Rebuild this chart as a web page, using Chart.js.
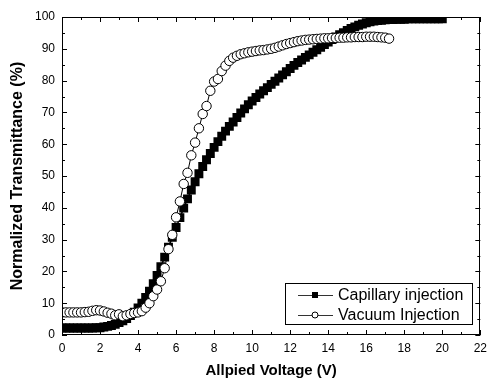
<!DOCTYPE html>
<html>
<head>
<meta charset="utf-8">
<script src="https://cdn.jsdelivr.net/npm/chart.js@4/dist/chart.umd.min.js"></script>
<style>
  body { margin: 0; background: #fff; }
  #wrap { width: 493px; height: 380px; }
</style>
</head>
<body>
<div id="wrap"><canvas id="cvsTrans" width="493" height="380"></canvas></div>
<script>
// dados
const voltage = [
  0.0, 0.2, 0.4, 0.6, 0.8, 1.0, 1.2, 1.4, 1.6, 1.8,
  2.0, 2.2, 2.4, 2.6, 2.8, 3.0, 3.2, 3.4, 3.6, 3.8,
  4.0, 4.2, 4.4, 4.6, 4.8, 5.0, 5.2, 5.4, 5.6, 5.8,
  6.0, 6.2, 6.4, 6.6, 6.8, 7.0, 7.2, 7.4, 7.6, 7.8,
  8.0, 8.2, 8.4, 8.6, 8.8, 9.0, 9.2, 9.4, 9.6, 9.8,
  10.0, 10.2, 10.4, 10.6, 10.8, 11.0, 11.2, 11.4, 11.6, 11.8,
  12.0, 12.2, 12.4, 12.6, 12.8, 13.0, 13.2, 13.4, 13.6, 13.8,
  14.0, 14.2, 14.4, 14.6, 14.8, 15.0, 15.2, 15.4, 15.6, 15.8,
  16.0, 16.2, 16.4, 16.6, 16.8, 17.0, 17.2, 17.4, 17.6, 17.8,
  18.0, 18.2, 18.4, 18.6, 18.8, 19.0, 19.2, 19.4, 19.6, 19.8,
  20.0
];

const capillary = [
  2.2, 2.2, 2.2, 2.2, 2.2, 2.2, 2.2, 2.2, 2.2, 2.3,
  2.3, 2.5, 2.7, 3.0, 3.4, 3.9, 4.5, 5.2, 6.1, 7.2,
  8.5, 10.0, 11.8, 13.8, 16.1, 18.7, 21.5, 24.5, 27.6, 30.7,
  33.8, 36.9, 39.9, 42.8, 45.6, 48.2, 50.7, 53.0, 55.1, 57.1,
  59.0, 60.8, 62.5, 64.1, 65.6, 67.0, 68.4, 69.8, 71.1, 72.4,
  73.6, 74.7, 75.8, 76.8, 77.8, 78.8, 79.8, 80.8, 81.8, 82.8,
  83.8, 84.8, 85.7, 86.5, 87.3, 88.1, 88.9, 89.7, 90.5, 91.3,
  92.1, 92.9, 93.7, 94.4, 95.1, 95.8, 96.4, 96.9, 97.4, 97.8,
  98.2, 98.5, 98.7, 98.9, 99.0, 99.1, 99.2, 99.2, 99.3, 99.3,
  99.3, 99.4, 99.4, 99.4, 99.4, 99.4, 99.4, 99.4, 99.4, 99.4,
  99.4
];

const vacuum = [
  7.1, 7.1, 7.1, 7.1, 7.1, 7.1, 7.2, 7.3, 7.6, 7.8,
  7.7, 7.4, 7.0, 6.7, 6.2, 6.5, 5.9, 6.2, 6.6, 6.9,
  7.1, 7.5, 8.6, 10.0, 12.2, 14.3, 16.9, 21.0, 27.0, 31.5,
  37.0, 42.0, 47.5, 51.0, 56.5, 60.5, 65.0, 69.5, 72.0, 76.8,
  79.7, 80.5, 83.0, 84.7, 86.2, 87.2, 87.8, 88.3, 88.6, 88.9,
  89.1, 89.3, 89.5, 89.6, 89.8, 90.0, 90.3, 90.7, 91.1, 91.5,
  91.8, 92.1, 92.4, 92.6, 92.8, 92.9, 93.0, 93.1, 93.2, 93.3,
  93.3, 93.4, 93.4, 93.5, 93.5, 93.6, 93.6, 93.7, 93.7, 93.7,
  93.8, 93.8, 93.8, 93.7, 93.6, 93.5, 93.2
];

const seriesNames = ["Capillary injection", "Vacuum Injection"];
const xTitle = "Allpied Voltage (V)";
const yTitle = "Normalized Transmittance (%)";

const fonte = "'Liberation Sans', Arial, sans-serif";

// moldura com ticks para dentro nos 4 lados
const molduraPlugin = {
  id: "moldura",
  afterDatasetsDraw(chart) {
    const { ctx, chartArea: a, scales: { x, y } } = chart;
    ctx.save();
    ctx.strokeStyle = "#000";
    ctx.lineWidth = 1;
    ctx.strokeRect(Math.round(a.left) + 0.5, Math.round(a.top) + 0.5,
      Math.round(a.width) - 1, Math.round(a.height) - 1);
    ctx.beginPath();
    for (let v = x.min; v <= x.max; v += 1) {
      const px = Math.round(x.getPixelForValue(v)) + 0.5;
      const len = v % 2 === 0 ? 5 : 3;
      ctx.moveTo(px, a.bottom); ctx.lineTo(px, a.bottom - len);
      ctx.moveTo(px, a.top); ctx.lineTo(px, a.top + len);
    }
    for (let v = y.min; v <= y.max; v += 5) {
      const py = Math.round(y.getPixelForValue(v)) + 0.5;
      const len = v % 10 === 0 ? 5 : 3;
      ctx.moveTo(a.left, py); ctx.lineTo(a.left + len, py);
      ctx.moveTo(a.right, py); ctx.lineTo(a.right - len, py);
    }
    ctx.stroke();
    ctx.restore();
  }
};

// legenda dentro da area, canto inferior direito
const legendaPlugin = {
  id: "legenda",
  afterDraw(chart) {
    const { ctx, chartArea: a } = chart;
    const w = 187, h = 41;
    const left = Math.round(a.right - 8 - w), top = Math.round(a.bottom - 11 - h);
    ctx.save();
    ctx.fillStyle = "#fff";
    ctx.fillRect(left, top, w, h);
    ctx.strokeStyle = "#000";
    ctx.lineWidth = 1;
    ctx.strokeRect(left + 0.5, top + 0.5, w, h);
    ctx.font = "16px " + fonte;
    ctx.textBaseline = "middle";
    chart.data.datasets.forEach((ds, i) => {
      const cy = top + 12 + i * 20;
      ctx.strokeStyle = "#333";
      ctx.beginPath();
      ctx.moveTo(left + 13, cy + 0.5); ctx.lineTo(left + 48, cy + 0.5);
      ctx.stroke();
      const mx = left + 30;
      if (ds.pointStyle === "rect") {
        ctx.fillStyle = "#000";
        ctx.fillRect(mx - 3, cy - 3, 6, 6);
      } else {
        ctx.fillStyle = "#fff";
        ctx.strokeStyle = "#000";
        ctx.beginPath();
        ctx.arc(mx, cy, 3, 0, Math.PI * 2);
        ctx.fill();
        ctx.stroke();
      }
      ctx.fillStyle = "#000";
      ctx.fillText(ds.label, left + 53, cy + 1);
    });
    ctx.restore();
  }
};

const ctxTrans = document.getElementById("cvsTrans");

new Chart(ctxTrans, {
  type: "scatter",
  data: {
    datasets: [
      {
        label: seriesNames[0],
        data: capillary.map((v, i) => ({ x: voltage[i], y: v })),
        showLine: true,
        borderColor: "#000",
        borderWidth: 1.5,
        pointStyle: "rect",
        pointRadius: 6.3,
        pointBackgroundColor: "#000",
        pointBorderColor: "#000",
        pointBorderWidth: 0,
        order: 2
      },
      {
        label: seriesNames[1],
        data: vacuum.map((v, i) => ({ x: voltage[i], y: v })),
        showLine: true,
        borderColor: "#000",
        borderWidth: 1,
        pointStyle: "circle",
        pointRadius: 4.7,
        pointBackgroundColor: "#fff",
        pointBorderColor: "#000",
        pointBorderWidth: 1,
        order: 1
      }
    ]
  },
  options: {
    responsive: false,
    animation: false,
    events: [],
    devicePixelRatio: 1,
    layout: { padding: { top: 17, right: 8, left: 0, bottom: 0 } },
    plugins: {
      legend: { display: false },
      tooltip: { enabled: false }
    },
    scales: {
      x: {
        type: "linear",
        min: 0,
        max: 22,
        ticks: { stepSize: 2, color: "#000", font: { family: fonte, size: 12 }, padding: 6, maxRotation: 0 },
        grid: { display: false, drawTicks: false },
        border: { display: false },
        title: { display: true, text: xTitle, color: "#000", font: { family: fonte, size: 15, weight: "bold" }, padding: { top: 0, bottom: 0 } },
        afterFit(s) { s.height = 45; }
      },
      y: {
        min: 0,
        max: 100,
        ticks: { stepSize: 10, color: "#000", font: { family: fonte, size: 12 }, padding: 7 },
        grid: { display: false, drawTicks: false },
        border: { display: false },
        title: { display: true, text: yTitle, color: "#000", font: { family: fonte, size: 16, weight: "bold" }, padding: { top: 8, bottom: 0 } },
        afterFit(s) { s.width = 62; }
      }
    }
  },
  plugins: [molduraPlugin, legendaPlugin]
});
</script>
</body>
</html>
